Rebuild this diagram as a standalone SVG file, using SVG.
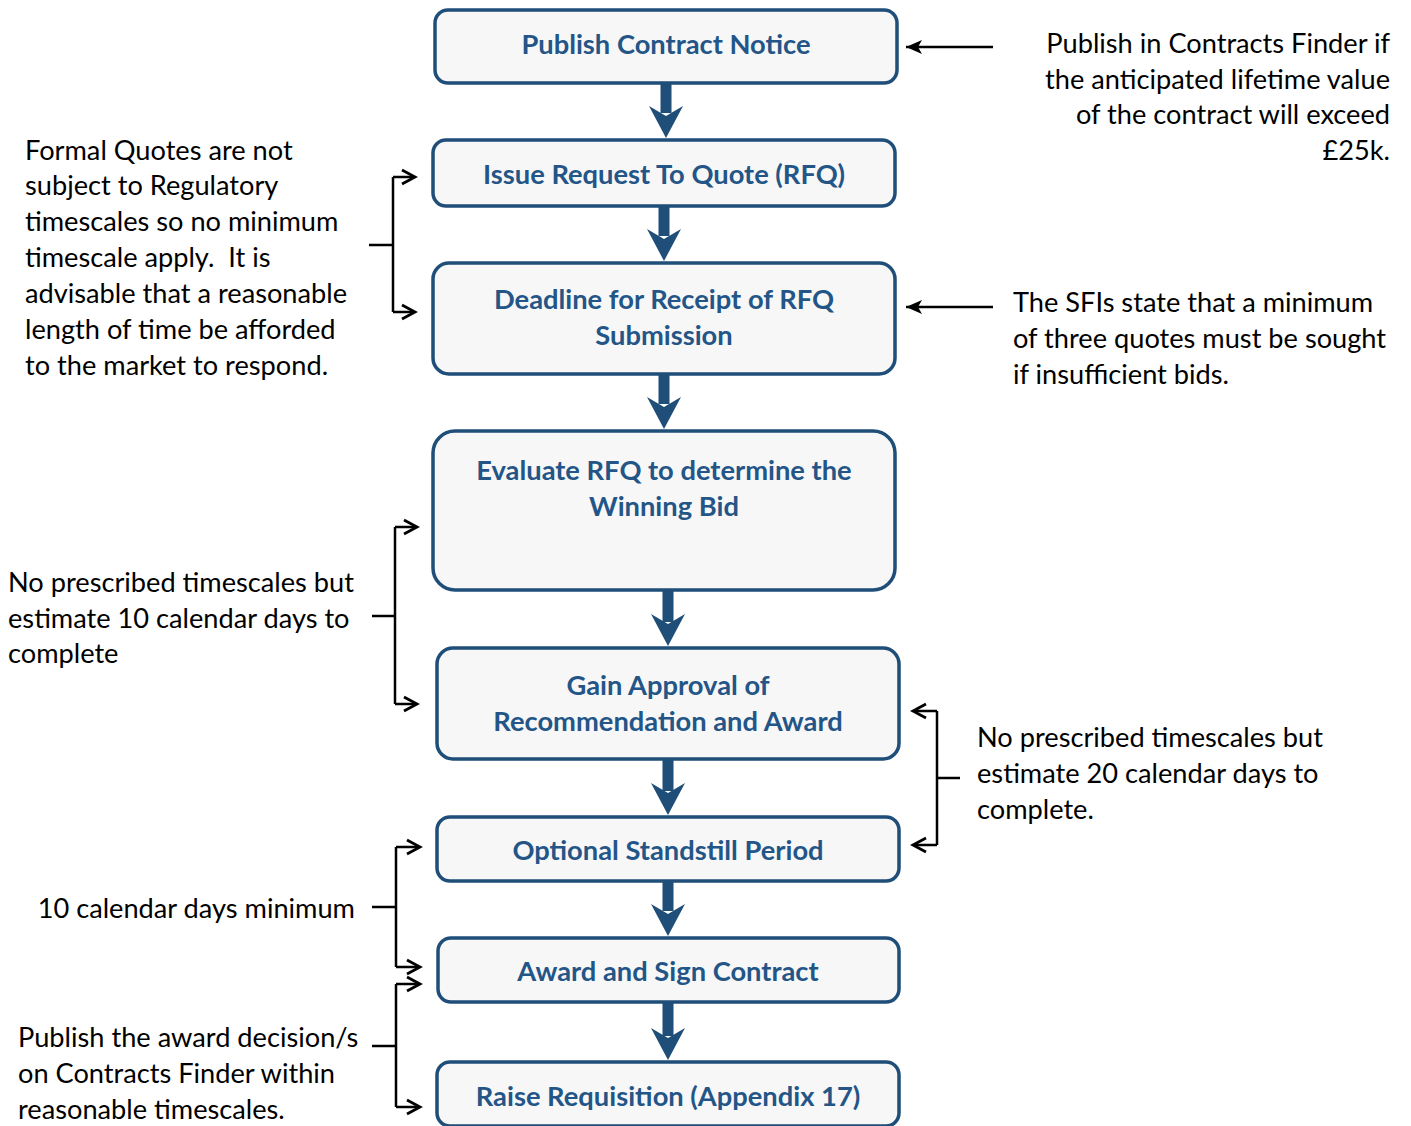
<svg xmlns="http://www.w3.org/2000/svg" width="1411" height="1126" viewBox="0 0 1411 1126">
  <defs>
    <style>
      .box { fill: #f7f7f7; stroke: #1f4e79; stroke-width: 3.5; }
      .btxt { font-family: Lato, "Open Sans", sans-serif; font-weight: bold; font-size: 27.3px; fill: #235587; text-anchor: middle; }
      .note { font-family: Lato, "Open Sans", sans-serif; font-size: 27.2px; fill: #000; }
      .flow { fill: #1f4e79; }
      .link { fill: none; stroke: #000; stroke-width: 2.5; }
      .chev { fill: none; stroke: #000; stroke-width: 2.8; stroke-linejoin: miter; }
    </style>
    <!-- filled pointer head, tip at the line end -->
    <marker id="tri" viewBox="0 0 16 14" refX="16" refY="7" markerWidth="16" markerHeight="14" markerUnits="userSpaceOnUse" orient="auto">
      <path d="M0,0 L16,7 L0,14 L4,7 Z" fill="#000"/>
    </marker>
  </defs>

  <!-- connectors -->
  <g id="connectors">
    <!-- step arrows -->
    <g class="flow">
      <rect x="660.5" y="83" width="11" height="30"/><path d="M649,106 L666,116 L683,106 L666,138 Z"/>
      <rect x="658.5" y="206" width="11" height="30"/><path d="M647,229 L664,239 L681,229 L664,261 Z"/>
      <rect x="658.5" y="374" width="11" height="30"/><path d="M647,397 L664,407 L681,397 L664,429 Z"/>
      <rect x="662.5" y="590" width="11" height="32"/><path d="M651,614 L668,624 L685,614 L668,646 Z"/>
      <rect x="662.5" y="759" width="11" height="32"/><path d="M651,783 L668,793 L685,783 L668,815 Z"/>
      <rect x="662.5" y="881" width="11" height="30"/><path d="M651,904 L668,914 L685,904 L668,936 Z"/>
      <rect x="662.5" y="1002" width="11" height="34"/><path d="M651,1028 L668,1038 L685,1028 L668,1060 Z"/>
    </g>

    <!-- pointers from right notes -->
    <path class="link" d="M993,47 H906" marker-end="url(#tri)"/>
    <path class="link" d="M993,307 H906" marker-end="url(#tri)"/>

    <!-- brackets -->
    <path class="link" d="M369,245 H393 M393,177 V312 M393,177 H413 M393,312 H413"/>
    <path class="chev" d="M402,170 L415,177 L402,184 M402,305 L415,312 L402,319"/>

    <path class="link" d="M372,616 H395 M395,527 V704 M395,527 H415 M395,704 H415"/>
    <path class="chev" d="M404,520 L417,527 L404,534 M404,697 L417,704 L404,711"/>

    <path class="link" d="M960,778 H937 M937,711 V845 M937,711 H915 M937,845 H915"/>
    <path class="chev" d="M926,704 L913,711 L926,718 M926,838 L913,845 L926,852"/>

    <path class="link" d="M372,907 H396 M396,847 V967 M396,847 H418 M396,967 H418"/>
    <path class="chev" d="M407,840 L420,847 L407,854 M407,960 L420,967 L407,974"/>

    <path class="link" d="M372,1046 H396 M396,984 V1107 M396,984 H418 M396,1107 H418"/>
    <path class="chev" d="M407,977 L420,984 L407,991 M407,1100 L420,1107 L407,1114"/>
  </g>

  <!-- process steps -->
  <g id="step-publish-notice">
    <rect class="box" x="435" y="10" width="462" height="73" rx="13"/>
    <text class="btxt" x="666" y="54">Publish Contract Notice</text>
  </g>
  <g id="step-issue-rfq">
    <rect class="box" x="433" y="140" width="462" height="66" rx="13"/>
    <text class="btxt" x="664" y="184">Issue Request To Quote (RFQ)</text>
  </g>
  <g id="step-deadline">
    <rect class="box" x="433" y="263" width="462" height="111" rx="16"/>
    <text class="btxt" x="664" y="309">Deadline for Receipt of RFQ</text>
    <text class="btxt" x="664" y="345">Submission</text>
  </g>
  <g id="step-evaluate">
    <rect class="box" x="433" y="431" width="462" height="159" rx="22"/>
    <text class="btxt" x="664" y="480">Evaluate RFQ to determine the</text>
    <text class="btxt" x="664" y="516">Winning Bid</text>
  </g>
  <g id="step-approval">
    <rect class="box" x="437" y="648" width="462" height="111" rx="16"/>
    <text class="btxt" x="668" y="695">Gain Approval of</text>
    <text class="btxt" x="668" y="731">Recommendation and Award</text>
  </g>
  <g id="step-standstill">
    <rect class="box" x="437" y="817" width="462" height="64" rx="13"/>
    <text class="btxt" x="668" y="860">Optional Standstill Period</text>
  </g>
  <g id="step-award">
    <rect class="box" x="438" y="938" width="461" height="64" rx="13"/>
    <text class="btxt" x="668" y="981">Award and Sign Contract</text>
  </g>
  <g id="step-requisition">
    <rect class="box" x="437" y="1062" width="462" height="64" rx="13"/>
    <text class="btxt" x="668" y="1106">Raise Requisition (Appendix 17)</text>
  </g>

  <!-- side notes -->
  <g id="note-contracts-finder">
    <text class="note" text-anchor="end" x="1390" y="53">Publish in Contracts Finder if</text>
    <text class="note" text-anchor="end" x="1390" y="89">the anticipated lifetime value</text>
    <text class="note" text-anchor="end" x="1390" y="124">of the contract will exceed</text>
    <text class="note" text-anchor="end" x="1390" y="160">£25k.</text>
  </g>
  <g id="note-formal-quotes">
    <text class="note" x="25" y="160">Formal Quotes are not</text>
    <text class="note" x="25" y="195">subject to Regulatory</text>
    <text class="note" x="25" y="231">timescales so no minimum</text>
    <text class="note" x="25" y="267" xml:space="preserve">timescale apply.  It is</text>
    <text class="note" x="25" y="303">advisable that a reasonable</text>
    <text class="note" x="25" y="339">length of time be afforded</text>
    <text class="note" x="25" y="375">to the market to respond.</text>
  </g>
  <g id="note-sfis">
    <text class="note" x="1013" y="312">The SFIs state that a minimum</text>
    <text class="note" x="1013" y="348">of three quotes must be sought</text>
    <text class="note" x="1013" y="384">if insufficient bids.</text>
  </g>
  <g id="note-evaluate-time">
    <text class="note" x="8" y="592">No prescribed timescales but</text>
    <text class="note" x="8" y="628">estimate 10 calendar days to</text>
    <text class="note" x="8" y="663">complete</text>
  </g>
  <g id="note-approval-time">
    <text class="note" x="977" y="747">No prescribed timescales but</text>
    <text class="note" x="977" y="783">estimate 20 calendar days to</text>
    <text class="note" x="977" y="819">complete.</text>
  </g>
  <g id="note-standstill">
    <text class="note" text-anchor="end" x="355" y="918">10 calendar days minimum</text>
  </g>
  <g id="note-award-publish">
    <text class="note" x="18" y="1047">Publish the award decision/s</text>
    <text class="note" x="18" y="1083">on Contracts Finder within</text>
    <text class="note" x="18" y="1119">reasonable timescales.</text>
  </g>
</svg>
